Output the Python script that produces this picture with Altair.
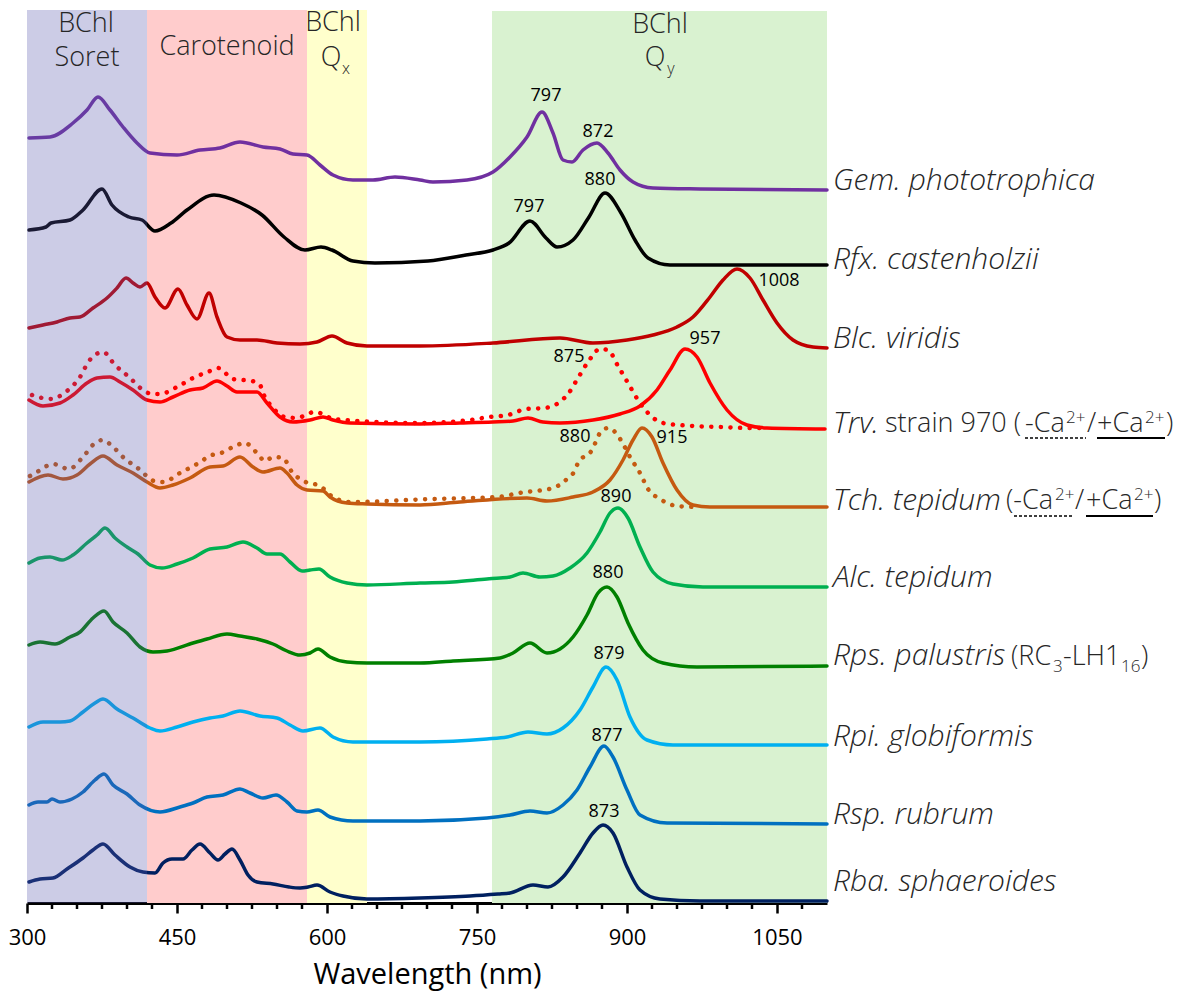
import altair as alt
import pandas as pd

# ---------------- data (wavelength in nm, stacked absorbance in arbitrary offset units) -------------
SPECIES = ["Gem", "Rfx", "Blc", "Trv", "Tch", "Alc", "Rps", "Rpi", "Rsp", "Rba"]
COLORS = ["#7030A0", "#000000", "#C00000", "#FF0000", "#C55A11",
          "#00B050", "#008000", "#00B0F0", "#0070C0", "#002060"]

GEM_NM = [302, 323, 346, 360, 371, 383, 396, 410, 423, 450, 473, 493, 513, 536, 553, 566, 580, 593, 606, 626,
          646, 668, 693, 706, 740, 766, 783, 800, 815, 826, 836, 845, 856, 870, 881, 893, 906, 926, 973, 1100]
GEM_A = [765, 766, 780, 793, 806, 793, 776, 760, 750, 748, 753, 755, 761, 756, 754, 749, 748, 738, 728, 723,
         723, 726, 723, 721, 723, 731, 746, 766, 791, 770, 743, 741, 753, 760, 750, 733, 721, 715, 714, 713]

RFX_NM = [302, 319, 324, 343, 356, 375, 385, 402, 415, 428, 444, 460, 487, 514, 535, 557, 578, 594, 605, 626,
          648, 701, 739, 766, 782, 803, 819, 830, 846, 862, 878, 894, 908, 921, 943, 1100]
RFX_A = [673, 676, 680, 683, 693, 714, 698, 686, 683, 672, 680, 693, 708, 700, 688, 666, 653, 656, 653, 642,
         640, 642, 648, 653, 660, 682, 665, 656, 663, 686, 710, 690, 663, 645, 638, 638]

BLC_NM = [302, 316, 330, 343, 353, 366, 380, 390, 399, 406, 413, 420, 428, 438, 451, 460, 470, 482, 490, 500,
          513, 530, 550, 573, 590, 605, 620, 640, 693, 766, 833, 866, 900, 926, 950, 966, 983, 996, 1010, 1023,
          1036, 1050, 1066, 1086, 1100]
BLC_A = [575, 578, 581, 585, 586, 595, 605, 615, 625, 620, 616, 620, 606, 595, 614, 598, 584, 610, 586, 566,
         563, 563, 560, 559, 561, 567, 560, 557, 557, 560, 565, 560, 563, 568, 576, 586, 606, 623, 634, 625,
         603, 580, 563, 556, 555]

TRV_NM = [302, 316, 333, 346, 360, 370, 383, 393, 406, 420, 433, 446, 463, 476, 490, 500, 510, 530, 540, 553,
          566, 583, 596, 606, 623, 693, 733, 766, 786, 801, 816, 833, 866, 893, 913, 930, 943, 958, 970, 983,
          1000, 1020, 1040, 1098]
TRV_A = [503, 497, 500, 508, 520, 525, 526, 521, 513, 503, 501, 506, 513, 515, 522, 517, 511, 511, 500, 486,
         481, 483, 486, 483, 480, 479, 480, 481, 482, 485, 481, 480, 483, 489, 497, 513, 533, 554, 546, 520,
         493, 478, 475, 474]

TRV_MINUS_NM = [305, 323, 340, 353, 362, 376, 388, 402, 416, 425, 433, 450, 466, 483, 491, 506, 525, 533, 536,
                546, 558, 570, 579, 587, 596, 606, 693, 743, 762, 781, 799, 817, 826, 834, 841, 851, 861, 873,
                881, 891, 901, 911, 921, 936, 966, 993, 1021, 1038]
TRV_MINUS_A = [508, 504, 512, 526, 542, 551, 538, 526, 513, 509, 509, 516, 525, 532, 535, 524, 522, 518, 510,
               495, 486, 485, 488, 491, 489, 484, 480, 483, 486, 488, 494, 495, 497, 502, 509, 525, 541, 554,
               553, 537, 520, 503, 490, 480, 477, 476, 475, 475]

TCH_NM = [302, 321, 336, 350, 363, 376, 390, 406, 420, 433, 446, 463, 483, 496, 513, 526, 536, 553, 560, 570,
          580, 596, 603, 620, 640, 693, 733, 800, 820, 846, 866, 883, 896, 906, 915, 925, 936, 950, 966, 983,
          1100]
TCH_A = [421, 428, 424, 428, 439, 447, 438, 430, 421, 415, 418, 425, 436, 437, 446, 436, 431, 435, 430, 418,
         413, 412, 406, 400, 399, 398, 401, 405, 402, 406, 411, 423, 443, 463, 475, 466, 440, 413, 398, 396,
         396]

TCH_MINUS_NM = [303, 310, 326, 342, 356, 368, 376, 384, 397, 412, 427, 436, 453, 470, 485, 494, 510, 518, 530,
                538, 546, 556, 565, 573, 581, 591, 598, 603, 623, 706, 743, 770, 798, 816, 826, 834, 841, 847,
                851, 865, 873, 881, 888, 895, 903, 913, 921, 933, 950, 970]
TCH_MINUS_A = [427, 431, 439, 434, 446, 460, 463, 458, 445, 434, 422, 421, 430, 439, 448, 450, 458, 460, 450,
               442, 446, 445, 431, 424, 420, 418, 413, 408, 401, 404, 405, 406, 411, 413, 415, 419, 425, 431,
               440, 453, 470, 475, 471, 461, 446, 430, 414, 404, 397, 396]

ALC_NM = [302, 313, 323, 335, 346, 360, 370, 378, 388, 400, 411, 423, 435, 450, 466, 483, 500, 516, 530, 540,
          553, 563, 575, 583, 592, 603, 620, 640, 693, 726, 760, 773, 783, 796, 813, 826, 843, 860, 873, 883,
          891, 901, 913, 926, 946, 976, 1100]
ALC_A = [340, 345, 346, 343, 348, 360, 368, 375, 365, 356, 349, 338, 335, 339, 345, 354, 356, 361, 355, 349,
         349, 341, 332, 333, 334, 326, 320, 318, 320, 321, 324, 325, 326, 330, 326, 327, 335, 350, 371, 390,
         395, 385, 356, 331, 319, 316, 316]

RPS_NM = [302, 313, 328, 343, 353, 366, 377, 386, 400, 413, 426, 440, 466, 480, 500, 513, 530, 546, 560, 573,
          583, 591, 603, 620, 640, 693, 726, 773, 786, 803, 820, 833, 846, 860, 871, 880, 890, 901, 916, 936,
          970, 1100]
RPS_A = [258, 261, 259, 266, 271, 285, 292, 281, 270, 256, 251, 252, 260, 264, 269, 267, 264, 259, 252, 248,
         250, 254, 246, 241, 240, 240, 242, 245, 250, 260, 250, 254, 266, 288, 310, 316, 306, 280, 253, 240,
         236, 237]

RPI_NM = [302, 316, 333, 343, 356, 368, 376, 390, 406, 423, 433, 450, 466, 483, 496, 513, 533, 550, 563, 576,
          593, 606, 626, 693, 760, 780, 801, 820, 836, 853, 866, 879, 890, 903, 920, 946, 1100]
RPI_A = [176, 181, 181, 182, 191, 200, 204, 194, 185, 175, 172, 176, 181, 185, 187, 192, 187, 185, 178, 172,
         175, 166, 161, 161, 164, 166, 171, 169, 175, 193, 216, 236, 223, 186, 163, 158, 158]

RSP_NM = [302, 311, 320, 325, 333, 345, 356, 368, 377, 386, 400, 413, 433, 453, 466, 480, 496, 513, 523, 536,
          549, 560, 570, 580, 591, 603, 626, 693, 760, 783, 803, 820, 836, 850, 863, 877, 886, 900, 913, 940,
          1100]
RSP_A = [98, 101, 101, 104, 101, 104, 111, 123, 129, 118, 109, 98, 91, 96, 100, 106, 108, 114, 110, 105,
         108, 101, 92, 91, 93, 86, 82, 82, 85, 88, 92, 90, 98, 113, 136, 157, 146, 113, 88, 80,
         79]

RBA_NM = [302, 313, 326, 340, 356, 366, 376, 388, 403, 416, 428, 436, 445, 456, 465, 473, 483, 491, 498, 505,
          513, 521, 530, 546, 562, 573, 581, 590, 603, 616, 640, 693, 743, 771, 783, 806, 821, 836, 853, 866,
          876, 886, 900, 913, 933, 973, 1100]
RBA_A = [21, 24, 25, 34, 45, 53, 59, 48, 36, 31, 30, 40, 44, 44, 53, 59, 50, 43, 49, 54,
         43, 28, 21, 19, 16, 15, 16, 18, 11, 7, 4, 5, 7, 9, 10, 18, 16, 26, 50, 70,
         78, 70, 36, 13, 4, 2, 2]

SOLID = {"Gem": (GEM_NM, GEM_A), "Rfx": (RFX_NM, RFX_A), "Blc": (BLC_NM, BLC_A), "Trv": (TRV_NM, TRV_A),
         "Tch": (TCH_NM, TCH_A), "Alc": (ALC_NM, ALC_A), "Rps": (RPS_NM, RPS_A), "Rpi": (RPI_NM, RPI_A),
         "Rsp": (RSP_NM, RSP_A), "Rba": (RBA_NM, RBA_A)}
DOTTED = {"Trv": (TRV_MINUS_NM, TRV_MINUS_A), "Tch": (TCH_MINUS_NM, TCH_MINUS_A)}

# spectral regions
BAND_NAME = ["Soret", "Carotenoid", "Qx", "Qy"]
BAND_START = [300, 420, 580, 765]
BAND_END = [420, 580, 640, 1100]
BAND_COLOR = ["#5555AC", "#FFCCCC", "#FFFFCC", "#D9F2D0"]
Y_TOP = 893

# region titles
BAND_TEXT = ["BChl", "Soret", "Carotenoid", "BChl", "Q", "BChl", "Q"]
BAND_TEXT_NM = [359, 360, 500, 606, 604, 933, 928]
BAND_TEXT_V = [879, 845, 856, 880, 845, 878, 845]
SUB_TEXT = ["x", "y"]
SUB_NM = [619, 944]
SUB_V = [834, 834]

# peak annotations
PEAK_TEXT = ["797", "872", "797", "880", "1008", "957", "875", "880", "915", "890", "880", "879", "877", "873"]
PEAK_NM = [819, 871, 802, 873, 1052, 978, 842, 848, 945, 889, 881, 882, 880, 877]
PEAK_V = [807, 771, 696, 723, 622, 564, 546, 466, 465, 406, 330, 249, 167, 91]

# species names (italic part)
NAMES = ["Gem. phototrophica", "Rfx. castenholzii", "Blc. viridis", "Trv.", "Tch. tepidum",
         "Alc. tepidum", "Rps. palustris", "Rpi. globiformis", "Rsp. rubrum", "Rba. sphaeroides"]
NAME_V = [722, 643, 564, 479, 402, 325, 247, 166, 88, 21]
NAME_NM = 1106

# upright parts of the names (pieces; super/subscripts are the smaller pieces)
SEG_TEXT = ["strain 970 (", "-Ca", "2+", "/", "+Ca", "2+", ")",
            "(-Ca", "2+", "/", "+Ca", "2+", ")",
            "(RC", "3", "-LH1", "16", ")"]
SEG_NM = [1158, 1298, 1339, 1360, 1370, 1418, 1439,
          1279, 1328, 1348, 1359, 1407, 1427,
          1284, 1326, 1336, 1394, 1414]
SEG_V = [479, 479, 485, 479, 479, 485, 479,
         402, 408, 402, 402, 408, 402,
         246, 236, 246, 236, 246]
SEG_SIZE = [27, 27, 17, 27, 27, 17, 27,
            27, 17, 27, 27, 17, 27,
            27, 17, 27, 17, 27]
UL_NM1 = [1298, 1370, 1287, 1359]
UL_NM2 = [1359, 1438, 1347, 1426]
UL_V = [465, 465, 387, 387]
UL_DASHED = [True, False, True, False]

MINOR_TICKS = [v for v in range(325, 1100, 25) if (v - 300) % 150 != 0]

# ---------------- build tables -------------
def long(d):
    rows = []
    for sp, (nm, a) in d.items():
        for x, y in zip(nm, a):
            rows.append({"species": sp, "nm": x, "v": y})
    return pd.DataFrame(rows)

solid_df = long(SOLID)
dotted_df = long(DOTTED)
bands = pd.DataFrame({"name": BAND_NAME, "nm": BAND_START, "nm2": BAND_END, "color": BAND_COLOR,
                      "v": [0] * 4, "v2": [Y_TOP, Y_TOP, Y_TOP, Y_TOP - 1]})
band_text = pd.DataFrame({"t": BAND_TEXT, "nm": BAND_TEXT_NM, "v": BAND_TEXT_V})
sub_text = pd.DataFrame({"t": SUB_TEXT, "nm": SUB_NM, "v": SUB_V})
peaks = pd.DataFrame({"t": PEAK_TEXT, "nm": PEAK_NM, "v": PEAK_V})
names = pd.DataFrame({"t": NAMES, "nm": [NAME_NM] * len(NAMES), "v": NAME_V})
segs = pd.DataFrame({"t": SEG_TEXT, "nm": SEG_NM, "v": SEG_V, "size": SEG_SIZE})
ul = pd.DataFrame({"nm": UL_NM1, "nm2": UL_NM2, "v": UL_V, "dashed": UL_DASHED})
minor = pd.DataFrame({"nm": MINOR_TICKS, "v": [0] * len(MINOR_TICKS), "v2": [-6] * len(MINOR_TICKS)})

FONT = "Open Sans"
XS = alt.Scale(domain=[300, 1100], nice=False, zero=False)
YS = alt.Scale(domain=[0, Y_TOP], nice=False, zero=False)
AX = alt.Axis(values=[300, 450, 600, 750, 900, 1050], format="d", title="Wavelength (nm)", grid=False,
              tickSize=10, tickWidth=2.5, tickColor="black", domainColor="black", domainWidth=3,
              labelFont=FONT, labelFontSize=22, labelColor="black", labelPadding=14, labelFlush=False,
              titleFont=FONT, titleFontSize=29, titleFontWeight="normal", titleColor="black", titlePadding=12)


def X(field="nm"):
    return alt.X(f"{field}:Q", scale=XS, axis=AX)


def Y(field="v"):
    return alt.Y(f"{field}:Q", scale=YS, axis=None)


under = alt.Chart(bands[bands.name != "Soret"]).mark_rect().encode(
    x=X(), x2="nm2:Q", y=Y(), y2="v2:Q", color=alt.Color("color:N", scale=None))

cscale = alt.Scale(domain=SPECIES, range=COLORS)
lines = alt.Chart(solid_df).mark_line(strokeWidth=3.5, interpolate="monotone", strokeCap="round",
                                      strokeJoin="round").encode(
    x=X(), y=Y(), color=alt.Color("species:N", scale=cscale, legend=None), detail="species:N")
dots = alt.Chart(dotted_df).mark_line(strokeWidth=4.5, interpolate="monotone", strokeCap="round",
                                      strokeDash=[0.1, 9.5]).encode(
    x=X(), y=Y(), color=alt.Color("species:N", scale=cscale, legend=None), detail="species:N")

soret = alt.Chart(bands[bands.name == "Soret"]).mark_rect(opacity=0.3).encode(
    x=X(), x2="nm2:Q", y=Y(), y2="v2:Q", color=alt.Color("color:N", scale=None))

ticks = alt.Chart(minor).mark_rule(color="black", strokeWidth=2.5).encode(x=X(), y=Y(), y2="v2:Q")

btxt = alt.Chart(band_text).mark_text(font=FONT, fontSize=27, fontWeight=300, color="#262626",
                                      baseline="middle").encode(x=X(), y=Y(), text="t:N")
stxt = alt.Chart(sub_text).mark_text(font=FONT, fontSize=16, fontWeight=300, color="#262626",
                                     baseline="middle").encode(x=X(), y=Y(), text="t:N")
ptxt = alt.Chart(peaks).mark_text(font=FONT, fontSize=18, color="black", baseline="middle").encode(
    x=X(), y=Y(), text="t:N")
ntxt = alt.Chart(names).mark_text(font=FONT, fontSize=30, fontWeight=300, fontStyle="italic",
                                  color="#262626", align="left", baseline="middle").encode(
    x=X(), y=Y(), text="t:N")
sgtxt = alt.Chart(segs).mark_text(font=FONT, fontWeight=300, color="#262626",
                                  align="left", baseline="middle").encode(
    x=X(), y=Y(), text="t:N", size=alt.Size("size:Q", scale=None, legend=None))
ul_dash = alt.Chart(ul[ul.dashed]).mark_rule(color="black", strokeWidth=1.5, strokeDash=[3, 2]).encode(
    x=X(), x2="nm2:Q", y=Y())
ul_solid = alt.Chart(ul[~ul.dashed]).mark_rule(color="black", strokeWidth=2).encode(
    x=X(), x2="nm2:Q", y=Y())

chart = alt.layer(under, lines, dots, soret, ticks, btxt, stxt, ptxt, ntxt, sgtxt, ul_dash, ul_solid).properties(
    width=800, height=Y_TOP,
    padding={"left": 19, "top": 2, "right": 351, "bottom": 90},
    autosize=alt.AutoSizeParams(type="none"),
).configure_view(stroke=None)

chart.save("out.html", embed_options={"renderer": "svg", "actions": False})
